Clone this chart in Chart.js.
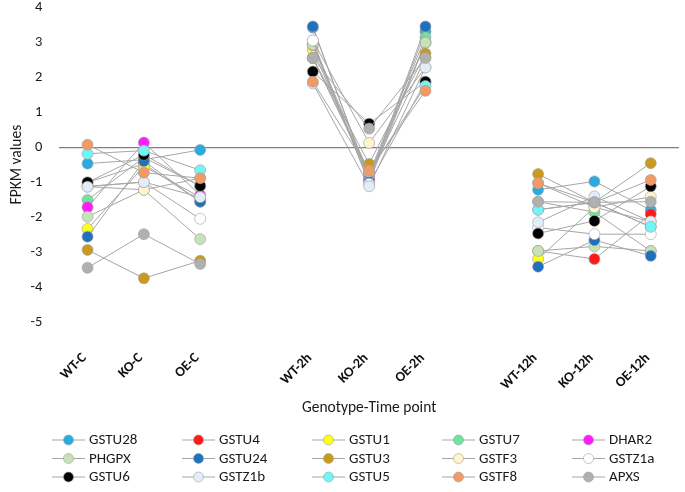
<!DOCTYPE html>
<html>
<head>
<meta charset="utf-8">
<script src="https://cdn.jsdelivr.net/npm/chart.js@4"></script>
<style>
  html, body { margin: 0; padding: 0; background: #fff; }
  #wrap { width: 685px; height: 492px; }
</style>
</head>
<body>
<div id="wrap"><canvas id="c" width="685" height="492"></canvas></div>
<script>
// categories (empty slots separate the three time groups)
const labels = ['WT-C', 'KO-C', 'OE-C', '', 'WT-2h', 'KO-2h', 'OE-2h', '', 'WT-12h', 'KO-12h', 'OE-12h'];

// FPKM values per gene, null = gap between groups
const GSTU28 = [-0.47, -0.36, -0.08, null, 3.42, -0.90, 3.31, null, -1.22, -0.98, -1.80];
const GSTU4  = [-1.01, -0.48, -1.56, null, 2.55, -0.80, 2.99, null, -2.97, -3.20, -1.92];
const GSTU1  = [-2.34, -0.55, -1.43, null, 2.78, -0.85, 2.55, null, -3.20, -1.72, -2.13];
const GSTU7  = [-1.51, -0.30, -1.11, null, 2.95, -0.75, 3.14, null, -1.56, -1.86, -2.97];
const DHAR2  = [-1.72, 0.13, -1.37, null, 2.92, -0.90, 2.99, null, -1.79, -1.58, -2.28];
const PHGPX  = [-1.99, -1.22, -2.63, null, 2.93, -1.00, 2.99, null, -2.97, -2.84, -2.97];
const GSTU24 = [-2.56, -0.40, -1.56, null, 3.45, -0.98, 3.45, null, -3.42, -2.66, -3.11];
const GSTU3  = [-2.94, -3.75, -3.25, null, 2.55, -0.48, 2.68, null, -0.77, -1.58, -0.46];
const GSTF3  = [-1.13, -1.22, -0.89, null, 3.05, 0.12, 2.28, null, -1.03, -1.72, -1.42];
const GSTZ1a = [-1.12, -1.00, -2.05, null, 3.05, -1.05, 1.87, null, -2.30, -2.49, -2.49];
const GSTU6  = [-1.01, -0.22, -1.11, null, 2.16, 0.67, 1.87, null, -2.47, -2.11, -1.12];
const GSTZ1b = [-1.13, -1.00, -1.43, null, 1.82, -1.12, 2.28, null, -2.15, -1.41, -2.13];
const GSTU5  = [-0.19, -0.10, -0.66, null, 2.55, -0.70, 1.75, null, -1.79, -1.58, -2.28];
const GSTF8  = [0.07, -0.73, -0.89, null, 1.87, -0.67, 1.61, null, -1.03, -1.58, -0.94];
const APXS   = [-3.45, -2.49, -3.34, null, 2.55, 0.53, 2.55, null, -1.56, -1.58, -1.56];

const yTicks = [4, 3, 2, 1, 0, -1, -2, -3, -4, -5];

const FONT = 'Carlito, Calibri, Lato, sans-serif';
const LINE = '#a6a6a6';

const series = [
  ['GSTU28', GSTU28, '#29abe2'],
  ['GSTU4',  GSTU4,  '#ff1a1a'],
  ['GSTU1',  GSTU1,  '#ffff1a'],
  ['GSTU7',  GSTU7,  '#6fe3a0'],
  ['DHAR2',  DHAR2,  '#ff1aff'],
  ['PHGPX',  PHGPX,  '#c8e2b8'],
  ['GSTU24', GSTU24, '#1f70bd'],
  ['GSTU3',  GSTU3,  '#c99a1e'],
  ['GSTF3',  GSTF3,  '#fff4cf'],
  ['GSTZ1a', GSTZ1a, '#ffffff'],
  ['GSTU6',  GSTU6,  '#000000'],
  ['GSTZ1b', GSTZ1b, '#e2edf8'],
  ['GSTU5',  GSTU5,  '#73f5f5'],
  ['GSTF8',  GSTF8,  '#f29a66'],
  ['APXS',   APXS,   '#b0b0b0']
];

// later series sit on top, like the spreadsheet original
const datasets = series.map(([name, data, color], i) => ({
  label: name,
  data: data,
  order: series.length - i,
  borderColor: LINE,
  borderWidth: 1,
  pointBackgroundColor: color,
  pointBorderColor: '#a0a0a0',
  pointBorderWidth: 0.6,
  pointRadius: 5.5,
  spanGaps: false,
  fill: false,
  tension: 0
}));

// legend drawn as a 5 x 3 grid under the axis title
const gridLegend = {
  id: 'gridLegend',
  afterDraw(chart) {
    const ctx = chart.ctx;
    const colX = [52, 182, 312, 442, 572];
    const rowY = [440, 458.5, 477];
    ctx.save();
    ctx.font = '15px ' + FONT;
    ctx.textBaseline = 'middle';
    chart.data.datasets.forEach((ds, i) => {
      const x = colX[i % 5], y = rowY[Math.floor(i / 5)];
      ctx.strokeStyle = LINE;
      ctx.lineWidth = 1;
      ctx.beginPath();
      ctx.moveTo(x, y);
      ctx.lineTo(x + 33, y);
      ctx.stroke();
      ctx.beginPath();
      ctx.arc(x + 16.5, y, 5, 0, Math.PI * 2);
      ctx.fillStyle = ds.pointBackgroundColor;
      ctx.fill();
      ctx.strokeStyle = '#a0a0a0';
      ctx.lineWidth = 0.6;
      ctx.stroke();
      ctx.fillStyle = '#1a1a1a';
      ctx.fillText(ds.label, x + 37, y + 0.5);
    });
    ctx.restore();
  }
};

new Chart(document.getElementById('c'), {
  type: 'line',
  data: { labels: labels, datasets: datasets },
  plugins: [gridLegend],
  options: {
    responsive: false,
    animation: false,
    layout: { padding: { top: 0, right: 0, left: 4, bottom: 71 } },
    plugins: { legend: { display: false }, tooltip: { enabled: false } },
    scales: {
      x: {
        offset: true,
        border: { display: false },
        grid: { display: false },
        afterFit: axis => { axis.height -= 8; },
        ticks: {
          minRotation: 45, maxRotation: 45, autoSkip: false,
          color: '#111', padding: 20, labelOffset: -3,
          font: { family: FONT, size: 14, weight: 'bold' }
        },
        title: {
          display: true, text: 'Genotype-Time point', color: '#1a1a1a',
          font: { family: FONT, size: 15.5 }, padding: { top: -7 }
        }
      },
      y: {
        min: -5, max: 4,
        afterBuildTicks: axis => { axis.ticks = yTicks.map(v => ({ value: v })); },
        border: { display: false },
        grid: {
          drawTicks: true,
          tickLength: 17,
          tickWidth: 0,
          tickColor: 'rgba(0,0,0,0)',
          color: c => c.tick && c.tick.value === 0 ? '#7f7f7f' : 'rgba(0,0,0,0)',
          lineWidth: 1.2
        },
        ticks: { color: '#1a1a1a', padding: 0, font: { family: FONT, size: 14.5, lineHeight: 1 } },
        title: {
          display: true, text: 'FPKM values', color: '#1a1a1a',
          font: { family: FONT, size: 15.5 }, padding: { bottom: 4 }
        }
      }
    }
  }
});
</script>
</body>
</html>
